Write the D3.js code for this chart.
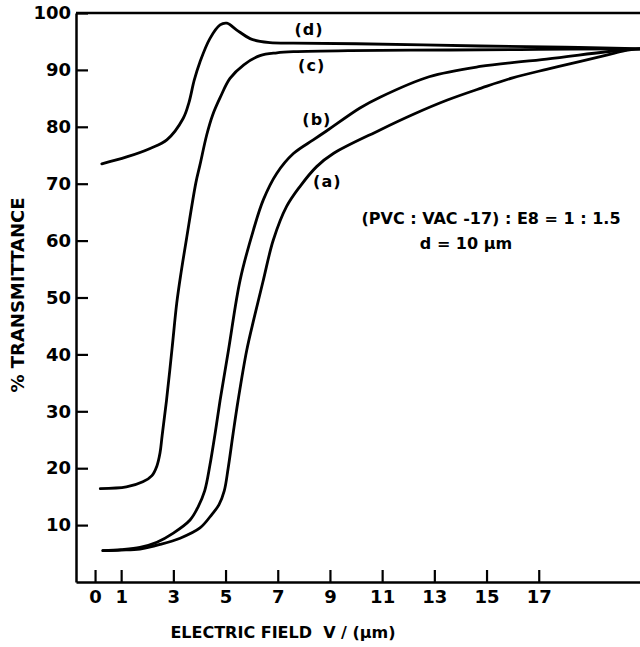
<!DOCTYPE html>
<html>
<head>
<meta charset="utf-8">
<script src="https://cdn.jsdelivr.net/npm/d3@7/dist/d3.min.js"></script>
<style>
  html, body { margin: 0; padding: 0; background: #fff; }
  svg { display: block; }
  text { font-family: "DejaVu Sans", sans-serif; font-weight: bold; fill: #000; }
</style>
</head>
<body>
<div id="chart"></div>
<script>
// electric field (V/um) and % transmittance
var xA = [0.3, 1.0, 1.72, 2.49, 3.26, 4.02, 4.48, 4.75, 4.95, 5.1, 5.29, 5.48, 5.81, 6.1, 6.45, 6.83, 7.34, 7.85, 8.49, 9.13, 10.9, 12.2, 13.5, 14.8, 16.0, 17.3, 18.6, 19.6, 20.3, 20.9];
var yA = [5.5, 5.6, 5.8, 6.6, 7.7, 9.5, 11.9, 13.6, 16.0, 20.0, 26.1, 31.9, 40.7, 46.5, 53.1, 60.1, 66.0, 69.5, 73.0, 75.3, 79.4, 82.2, 84.7, 86.8, 88.6, 90.1, 91.5, 92.6, 93.4, 93.7];

var xB = [0.3, 1.0, 1.72, 2.37, 3.0, 3.64, 3.95, 4.2, 4.4, 4.6, 4.79, 5.11, 5.56, 6.07, 6.45, 6.96, 7.6, 8.36, 8.88, 10.15, 10.92, 12.8, 14.75, 17.3, 20.2, 20.9];
var yB = [5.5, 5.7, 6.1, 7.0, 8.6, 10.9, 13.2, 16.0, 20.5, 26.1, 31.9, 40.7, 53.1, 61.9, 67.2, 71.8, 75.3, 77.7, 79.3, 83.3, 85.2, 88.8, 90.6, 91.9, 93.5, 93.7];

var xC = [0.2, 1.2, 1.83, 2.18, 2.37, 2.49, 2.57, 2.74, 2.95, 3.13, 3.3, 3.5, 3.86, 4.02, 4.28, 4.5, 4.8, 5.17, 5.7, 6.32, 6.97, 7.6, 9.8, 13.6, 17.0, 20.3, 20.9];
var yC = [16.4, 16.7, 17.6, 18.7, 20.4, 22.7, 25.7, 32.0, 41.0, 49.0, 54.5, 60.2, 70.1, 73.3, 78.6, 82.0, 85.2, 88.5, 90.9, 92.5, 93.0, 93.2, 93.4, 93.5, 93.6, 93.7, 93.7];

var xD = [0.26, 1.21, 2.11, 2.75, 3.38, 3.6, 3.8, 4.02, 4.4, 4.79, 5.05, 5.43, 5.94, 6.32, 6.7, 7.6, 10.0, 14.75, 18.0, 20.3, 20.9];
var yD = [73.5, 74.7, 76.2, 77.7, 81.5, 84.3, 88.2, 91.4, 95.5, 97.9, 98.2, 97.0, 95.5, 95.0, 94.8, 94.7, 94.6, 94.2, 94.0, 93.8, 93.7];

var xTicks = [0, 1, 3, 5, 7, 9, 11, 13, 15, 17];
var yTicks = [10, 20, 30, 40, 50, 60, 70, 80, 90, 100];

// curve letters, placed in data units
var curveNames = ["(d)", "(c)", "(b)", "(a)"];
var curveNameX = [8.2, 8.3, 8.5, 8.9];
var curveNameY = [96.2, 89.8, 80.4, 69.5];

var noteLines = ["(PVC : VAC -17) : E8 = 1 : 1.5", "d = 10 \u03bcm"];

var width = 640, height = 647;

var svg = d3.select("#chart").append("svg")
    .attr("width", width)
    .attr("height", height);

var x = d3.scaleLinear().domain([-0.73, 20.88]).range([76, 640]);
var y = d3.scaleLinear().domain([0, 100]).range([582, 13]);

// frame top
svg.append("line")
    .attr("x1", x.range()[0]).attr("x2", x.range()[1])
    .attr("y1", y(100)).attr("y2", y(100))
    .attr("stroke", "#000").attr("stroke-width", 2.5);

var xAxis = svg.append("g")
    .attr("transform", `translate(0,${y(0)})`)
    .call(d3.axisBottom(x).tickValues(xTicks).tickSizeInner(-12).tickSizeOuter(0).tickPadding(8));

var yAxis = svg.append("g")
    .attr("transform", `translate(${x.range()[0]},0)`)
    .call(d3.axisLeft(y).tickValues(yTicks).tickSizeInner(-12).tickSizeOuter(0).tickPadding(5));

[xAxis, yAxis].forEach(function(ax) {
    ax.select(".domain").attr("stroke-width", 2.5);
    ax.selectAll(".tick line").attr("stroke-width", 2.2);
    ax.selectAll("text").style("font-family", "DejaVu Sans").style("font-weight", "bold")
        .style("font-size", "18px").attr("fill", "#000");
});

// axis titles
svg.append("text")
    .attr("x", 283).attr("y", 638)
    .attr("text-anchor", "middle")
    .style("font-size", "16px")
    .style("white-space", "pre")
    .text("ELECTRIC FIELD  V / (\u03bcm)");

svg.append("text")
    .attr("transform", "translate(24,295) rotate(-90)")
    .attr("text-anchor", "middle")
    .style("font-size", "18px")
    .text("% TRANSMITTANCE");

var line = d3.line()
    .x(d => x(d[0]))
    .y(d => y(d[1]))
    .curve(d3.curveCatmullRom.alpha(0.5));

var series = [[xA, yA], [xB, yB], [xC, yC], [xD, yD]];

svg.append("g")
    .selectAll("path")
    .data(series)
    .join("path")
    .attr("d", s => line(d3.zip(s[0], s[1])))
    .attr("fill", "none")
    .attr("stroke", "#000")
    .attr("stroke-width", 2.8)
    .attr("stroke-linecap", "round")
    .attr("stroke-linejoin", "round");

svg.append("g")
    .selectAll("text")
    .data(curveNames)
    .join("text")
    .attr("x", (d, i) => x(curveNameX[i]))
    .attr("y", (d, i) => y(curveNameY[i]))
    .attr("text-anchor", "middle")
    .style("font-size", "16px")
    .style("letter-spacing", "1px")
    .text(d => d);

svg.append("text")
    .attr("x", 491).attr("y", 224)
    .attr("text-anchor", "middle")
    .style("font-size", "16px")
    .text(noteLines[0]);

svg.append("text")
    .attr("x", 466).attr("y", 249)
    .attr("text-anchor", "middle")
    .style("font-size", "16px")
    .text(noteLines[1]);
</script>
</body>
</html>
